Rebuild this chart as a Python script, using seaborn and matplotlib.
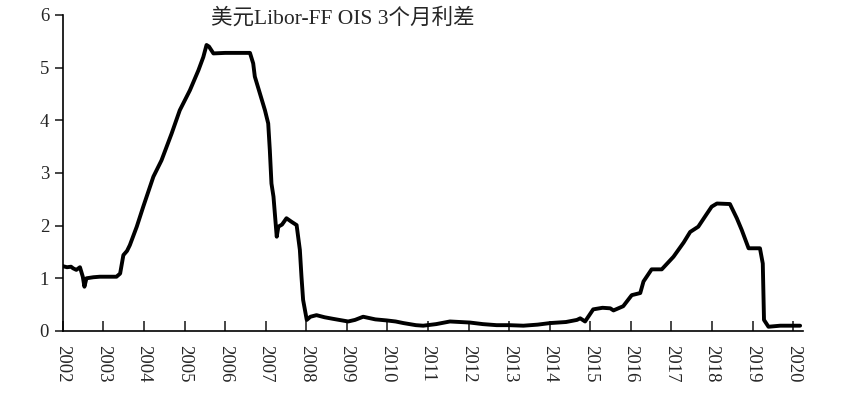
import matplotlib
matplotlib.use("Agg")
import matplotlib.pyplot as plt
import numpy as np
import pandas as pd
import seaborn as sns

# spread (fractional year, percent)
years = [2002.00, 2002.10, 2002.20, 2002.25, 2002.33, 2002.42, 2002.49, 2002.53,
         2002.58, 2002.75, 2002.91, 2003.10, 2003.32, 2003.41, 2003.49, 2003.58,
         2003.65, 2003.82, 2003.98, 2004.23, 2004.43, 2004.68, 2004.88, 2005.13,
         2005.34, 2005.46, 2005.54, 2005.60, 2005.71, 2006.00, 2006.30, 2006.61,
         2006.69, 2006.73, 2006.82, 2006.98, 2007.06, 2007.10, 2007.14, 2007.19,
         2007.27, 2007.31, 2007.40, 2007.51, 2007.64, 2007.76, 2007.84, 2007.88,
         2007.92, 2008.01, 2008.10, 2008.25, 2008.45, 2008.66, 2009.03, 2009.20,
         2009.40, 2009.70, 2009.98, 2010.20, 2010.39, 2010.70, 2010.88, 2011.20,
         2011.54, 2012.03, 2012.35, 2012.69, 2013.00, 2013.35, 2013.70, 2014.01,
         2014.40, 2014.67, 2014.75, 2014.87, 2015.07, 2015.30, 2015.49, 2015.57,
         2015.81, 2016.02, 2016.23, 2016.31, 2016.51, 2016.76, 2017.05, 2017.30,
         2017.46, 2017.66, 2017.85, 2017.99, 2018.12, 2018.44, 2018.61, 2018.73,
         2018.90, 2019.18, 2019.25, 2019.28, 2019.39, 2019.68, 2019.90, 2020.17]
spread = [1.23, 1.21, 1.22, 1.19, 1.16, 1.21, 1.03, 0.84,
          1.00, 1.02, 1.03, 1.03, 1.03, 1.09, 1.44, 1.52,
          1.63, 1.98, 2.36, 2.93, 3.24, 3.75, 4.19, 4.57,
          4.95, 5.20, 5.43, 5.40, 5.27, 5.28, 5.28, 5.28,
          5.08, 4.83, 4.60, 4.19, 3.94, 3.43, 2.80, 2.55,
          1.79, 1.98, 2.02, 2.14, 2.07, 2.01, 1.54, 1.03,
          0.59, 0.21, 0.27, 0.30, 0.26, 0.23, 0.18, 0.21,
          0.27, 0.22, 0.20, 0.18, 0.15, 0.11, 0.10, 0.13,
          0.18, 0.16, 0.13, 0.11, 0.11, 0.10, 0.12, 0.15,
          0.17, 0.21, 0.24, 0.18, 0.41, 0.44, 0.43, 0.39,
          0.47, 0.68, 0.72, 0.94, 1.17, 1.17, 1.41, 1.68,
          1.88, 1.98, 2.20, 2.36, 2.42, 2.41, 2.14, 1.92,
          1.57, 1.57, 1.28, 0.21, 0.08, 0.10, 0.10, 0.10]
year_ticks = list(range(2002, 2021))
title = "美元Libor-FF OIS 3个月利差"

df = pd.DataFrame({"year": years, "spread": spread})

sns.set_style("ticks")
plt.rcParams["font.family"] = ["Liberation Serif", "Noto Sans CJK SC"]

fig = plt.figure(figsize=(8.56, 3.94), dpi=100)
ax = fig.add_axes([0.0735, 0.16, 0.865, 0.802])

sns.lineplot(data=df, x="year", y="spread", color="black", linewidth=2.8, ax=ax)

ax.set_xlim(2002, 2020.25)
ax.set_ylim(0, 6)
ax.set_xticks(year_ticks)
ax.set_xticklabels([str(y) for y in year_ticks], rotation=-90, fontsize=13.5)
ax.set_yticks(range(0, 7))
ax.tick_params(axis="y", direction="out", length=6, width=1.2, labelsize=13.5, pad=4)
ax.tick_params(axis="x", direction="in", length=7, width=1.2, pad=10)
ax.set_xlabel("")
ax.set_ylabel("")
for s in ["top", "right"]:
    ax.spines[s].set_visible(False)
for s in ["left", "bottom"]:
    ax.spines[s].set_linewidth(1.2)
    ax.spines[s].set_color("black")

ax.text(0.2, 0.99, title, transform=ax.transAxes, fontsize=15.5,
        ha="left", va="center")

fig.savefig("out.png", dpi=100)
